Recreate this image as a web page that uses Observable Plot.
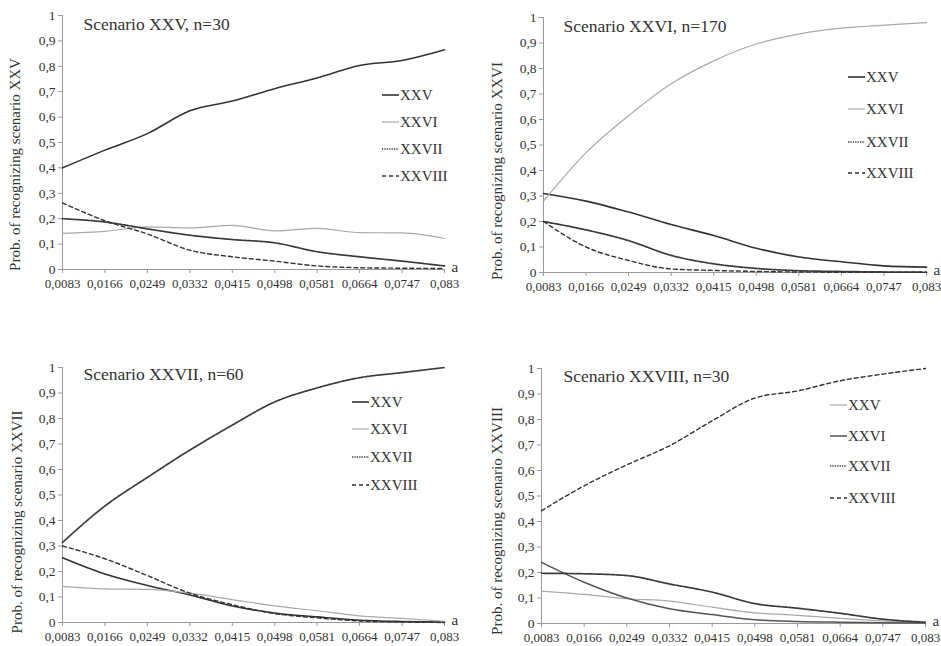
<!DOCTYPE html>
<html><head><meta charset="utf-8">
<script src="https://cdn.jsdelivr.net/npm/d3@7"></script>
<script src="https://cdn.jsdelivr.net/npm/@observablehq/plot@0.6"></script>
<style>
html,body{margin:0;padding:0;background:#fff;overflow:hidden;}
#wrap{position:relative;width:941px;height:646px;font-family:"Liberation Serif","Times New Roman",serif;}
.panel{position:absolute;}
.legend{position:absolute;font-size:15px;color:#333;font-family:"Liberation Serif","Times New Roman",serif;}
.legend .row{position:absolute;left:0;display:flex;align-items:center;white-space:nowrap;height:16px;margin-top:-8px;}
.legend svg{display:block;margin-right:1px;}
[aria-label="x-axis tick"],[aria-label="y-axis tick"]{stroke:#999;}
[aria-label="y-axis tick label"]{font-size:13.5px;}
</style></head><body><div id="wrap"></div>
<script>
// ---- data ----
const aValues = [0.0083, 0.0166, 0.0249, 0.0332, 0.0415, 0.0498, 0.0581, 0.0664, 0.0747, 0.083];
const yTicks = [0, 0.1, 0.2, 0.3, 0.4, 0.5, 0.6, 0.7, 0.8, 0.9, 1];
const seriesNames = ["XXV", "XXVI", "XXVII", "XXVIII"];
const titles = ["Scenario XXV, n=30", "Scenario XXVI, n=170", "Scenario XXVII, n=60", "Scenario XXVIII, n=30"];
const yLabels = ["Prob. of recognizing scenario XXV", "Prob. of recognizing scenario XXVI",
                 "Prob. of recognizing scenario XXVII", "Prob. of recognizing scenario XXVIII"];

// Scenario XXV, n=30
const p1_XXV    = [0.400, 0.470, 0.535, 0.625, 0.663, 0.712, 0.754, 0.803, 0.823, 0.865];
const p1_XXVI   = [0.142, 0.150, 0.168, 0.164, 0.174, 0.152, 0.162, 0.145, 0.144, 0.122];
const p1_XXVII  = [0.200, 0.187, 0.160, 0.135, 0.118, 0.105, 0.070, 0.050, 0.033, 0.014];
const p1_XXVIII = [0.262, 0.192, 0.140, 0.076, 0.050, 0.033, 0.014, 0.007, 0.005, 0.004];
// Scenario XXVI, n=170
const p2_XXV    = [0.310, 0.280, 0.237, 0.188, 0.145, 0.095, 0.061, 0.042, 0.026, 0.021];
const p2_XXVI   = [0.280, 0.470, 0.615, 0.740, 0.830, 0.896, 0.935, 0.958, 0.970, 0.980];
const p2_XXVII  = [0.200, 0.167, 0.125, 0.067, 0.034, 0.016, 0.007, 0.004, 0.002, 0.001];
const p2_XXVIII = [0.200, 0.100, 0.047, 0.014, 0.008, 0.004, 0.002, 0.001, 0.001, 0.001];
// Scenario XXVII, n=60
const p3_XXV    = [0.254, 0.190, 0.145, 0.108, 0.065, 0.037, 0.022, 0.009, 0.004, 0.002];
const p3_XXVI   = [0.142, 0.132, 0.130, 0.115, 0.090, 0.065, 0.046, 0.026, 0.016, 0.005];
const p3_XXVII  = [0.314, 0.457, 0.569, 0.676, 0.774, 0.865, 0.920, 0.960, 0.980, 1.000];
const p3_XXVIII = [0.300, 0.250, 0.184, 0.115, 0.070, 0.035, 0.018, 0.006, 0.002, 0.000];
// Scenario XXVIII, n=30
const p4_XXV    = [0.127, 0.114, 0.097, 0.088, 0.064, 0.042, 0.032, 0.020, 0.010, 0.003];
const p4_XXVI   = [0.240, 0.162, 0.100, 0.058, 0.035, 0.015, 0.008, 0.005, 0.003, 0.002];
const p4_XXVII  = [0.197, 0.195, 0.188, 0.155, 0.123, 0.078, 0.060, 0.040, 0.017, 0.005];
const p4_XXVIII = [0.442, 0.540, 0.622, 0.697, 0.795, 0.884, 0.912, 0.952, 0.978, 1.000];

const panelSeries = [
  [p1_XXV, p1_XXVI, p1_XXVII, p1_XXVIII],
  [p2_XXV, p2_XXVI, p2_XXVII, p2_XXVIII],
  [p3_XXV, p3_XXVI, p3_XXVII, p3_XXVIII],
  [p4_XXV, p4_XXVI, p4_XXVII, p4_XXVIII]
];

// ---- styles & layout ----
const S = {
  dark:   {stroke: "#333", strokeWidth: 1.6, dash: null},
  light:  {stroke: "#a9a9a9", strokeWidth: 1.2, dash: null},
  mid:    {stroke: "#555", strokeWidth: 1.5, dash: null},
  dotted: {stroke: "#3a3a3a", strokeWidth: 1.7, dash: "1.3,1.1"},
  dashed: {stroke: "#333", strokeWidth: 1.4, dash: "4,3"}
};
const layout = [
  {left: 0,   top: 0,   w: 470, h: 320, ml: 62, mr: 26, mt: 15, mb: 51, tdx: 21, tdy: 9, ldx: -47, ldy: 22,
   styles: [S.dark, S.light, S.dotted, S.dashed], legX: 382, legY: [95, 122, 149, 176]},
  {left: 470, top: 0,   w: 471, h: 320, ml: 73, mr: 15, mt: 17, mb: 48, tdx: 20, tdy: 9, ldx: -46, ldy: 26,
   styles: [S.dark, S.light, S.dotted, S.dashed], legX: 848, legY: [77, 109, 142, 173]},
  {left: 0,   top: 320, w: 470, h: 326, ml: 62, mr: 26, mt: 47, mb: 24, tdx: 21, tdy: 7, ldx: -45, ldy: 27,
   styles: [S.dark, S.light, S.dotted, S.dashed], legX: 352, legY: [402, 429, 457, 485]},
  {left: 470, top: 320, w: 471, h: 326, ml: 71, mr: 16, mt: 48, mb: 23, tdx: 22, tdy: 8, ldx: -44, ldy: 25,
   styles: [S.light, S.mid, S.dotted, S.dashed], legX: 830, legY: [405, 436, 466, 498]}
];

const fmtA = d => String(d).replace(".", ",");
const fmtY = d => (d === 0 ? "0" : d === 1 ? "1" : d3.format(".1f")(d).replace(".", ","));

const wrap = document.getElementById("wrap");

layout.forEach((L, p) => {
  const lineMarks = panelSeries[p].map((vals, k) => {
    const st = L.styles[k];
    const data = aValues.map((a, i) => ({a, v: vals[i], s: seriesNames[k]}));
    return Plot.line(data, {x: "a", y: "v", stroke: st.stroke, strokeWidth: st.strokeWidth,
      strokeDasharray: st.dash || undefined, curve: "monotone-x"});
  });
  const chart = Plot.plot({
    width: L.w, height: L.h,
    marginLeft: L.ml, marginRight: L.mr, marginTop: L.mt, marginBottom: L.mb,
    style: {fontFamily: "'Liberation Serif', 'Times New Roman', serif", fontSize: "13px", color: "#333", background: "white", overflow: "visible"},
    x: {type: "linear", domain: [aValues[0], aValues[aValues.length - 1]], ticks: aValues, tickFormat: fmtA,
        tickSize: 4, tickPadding: 5, label: null},
    y: {domain: [0, 1], ticks: yTicks, tickFormat: fmtY, tickSize: 4, tickPadding: 3, label: null},
    marks: [
      Plot.ruleY([0], {stroke: "#999"}),
      Plot.ruleX([aValues[0]], {stroke: "#999"}),
      ...lineMarks,
      Plot.text([titles[p]], {frameAnchor: "top-left", dx: L.tdx, dy: L.tdy, textAnchor: "start",
        lineAnchor: "middle", fontSize: 17.5, fill: "#333"}),
      Plot.text([yLabels[p]], {frameAnchor: "left", rotate: -90, dx: L.ldx, dy: L.ldy,
        textAnchor: "middle", fontSize: 15, fill: "#333", lineAnchor: "middle"}),
      Plot.text(["a"], {frameAnchor: "bottom-right", dx: 7, dy: -2, textAnchor: "start", lineAnchor: "middle",
        fontSize: 15, fill: "#333"})
    ]
  });
  chart.classList.add("panel");
  chart.style.left = L.left + "px";
  chart.style.top = L.top + "px";
  wrap.appendChild(chart);

  // legend
  const leg = document.createElement("div");
  leg.className = "legend";
  leg.style.left = L.legX + "px";
  leg.style.top = "0px";
  seriesNames.forEach((name, k) => {
    const st = L.styles[k];
    const row = document.createElement("div");
    row.className = "row";
    row.style.top = L.legY[k] + "px";
    row.innerHTML = `<svg width="17" height="6"><line x1="0" x2="17" y1="3" y2="3" stroke="${st.stroke}" stroke-width="${st.strokeWidth}" ${st.dash ? `stroke-dasharray="${st.dash}"` : ""}/></svg><span>${name}</span>`;
    leg.appendChild(row);
  });
  wrap.appendChild(leg);
});
</script></body></html>
